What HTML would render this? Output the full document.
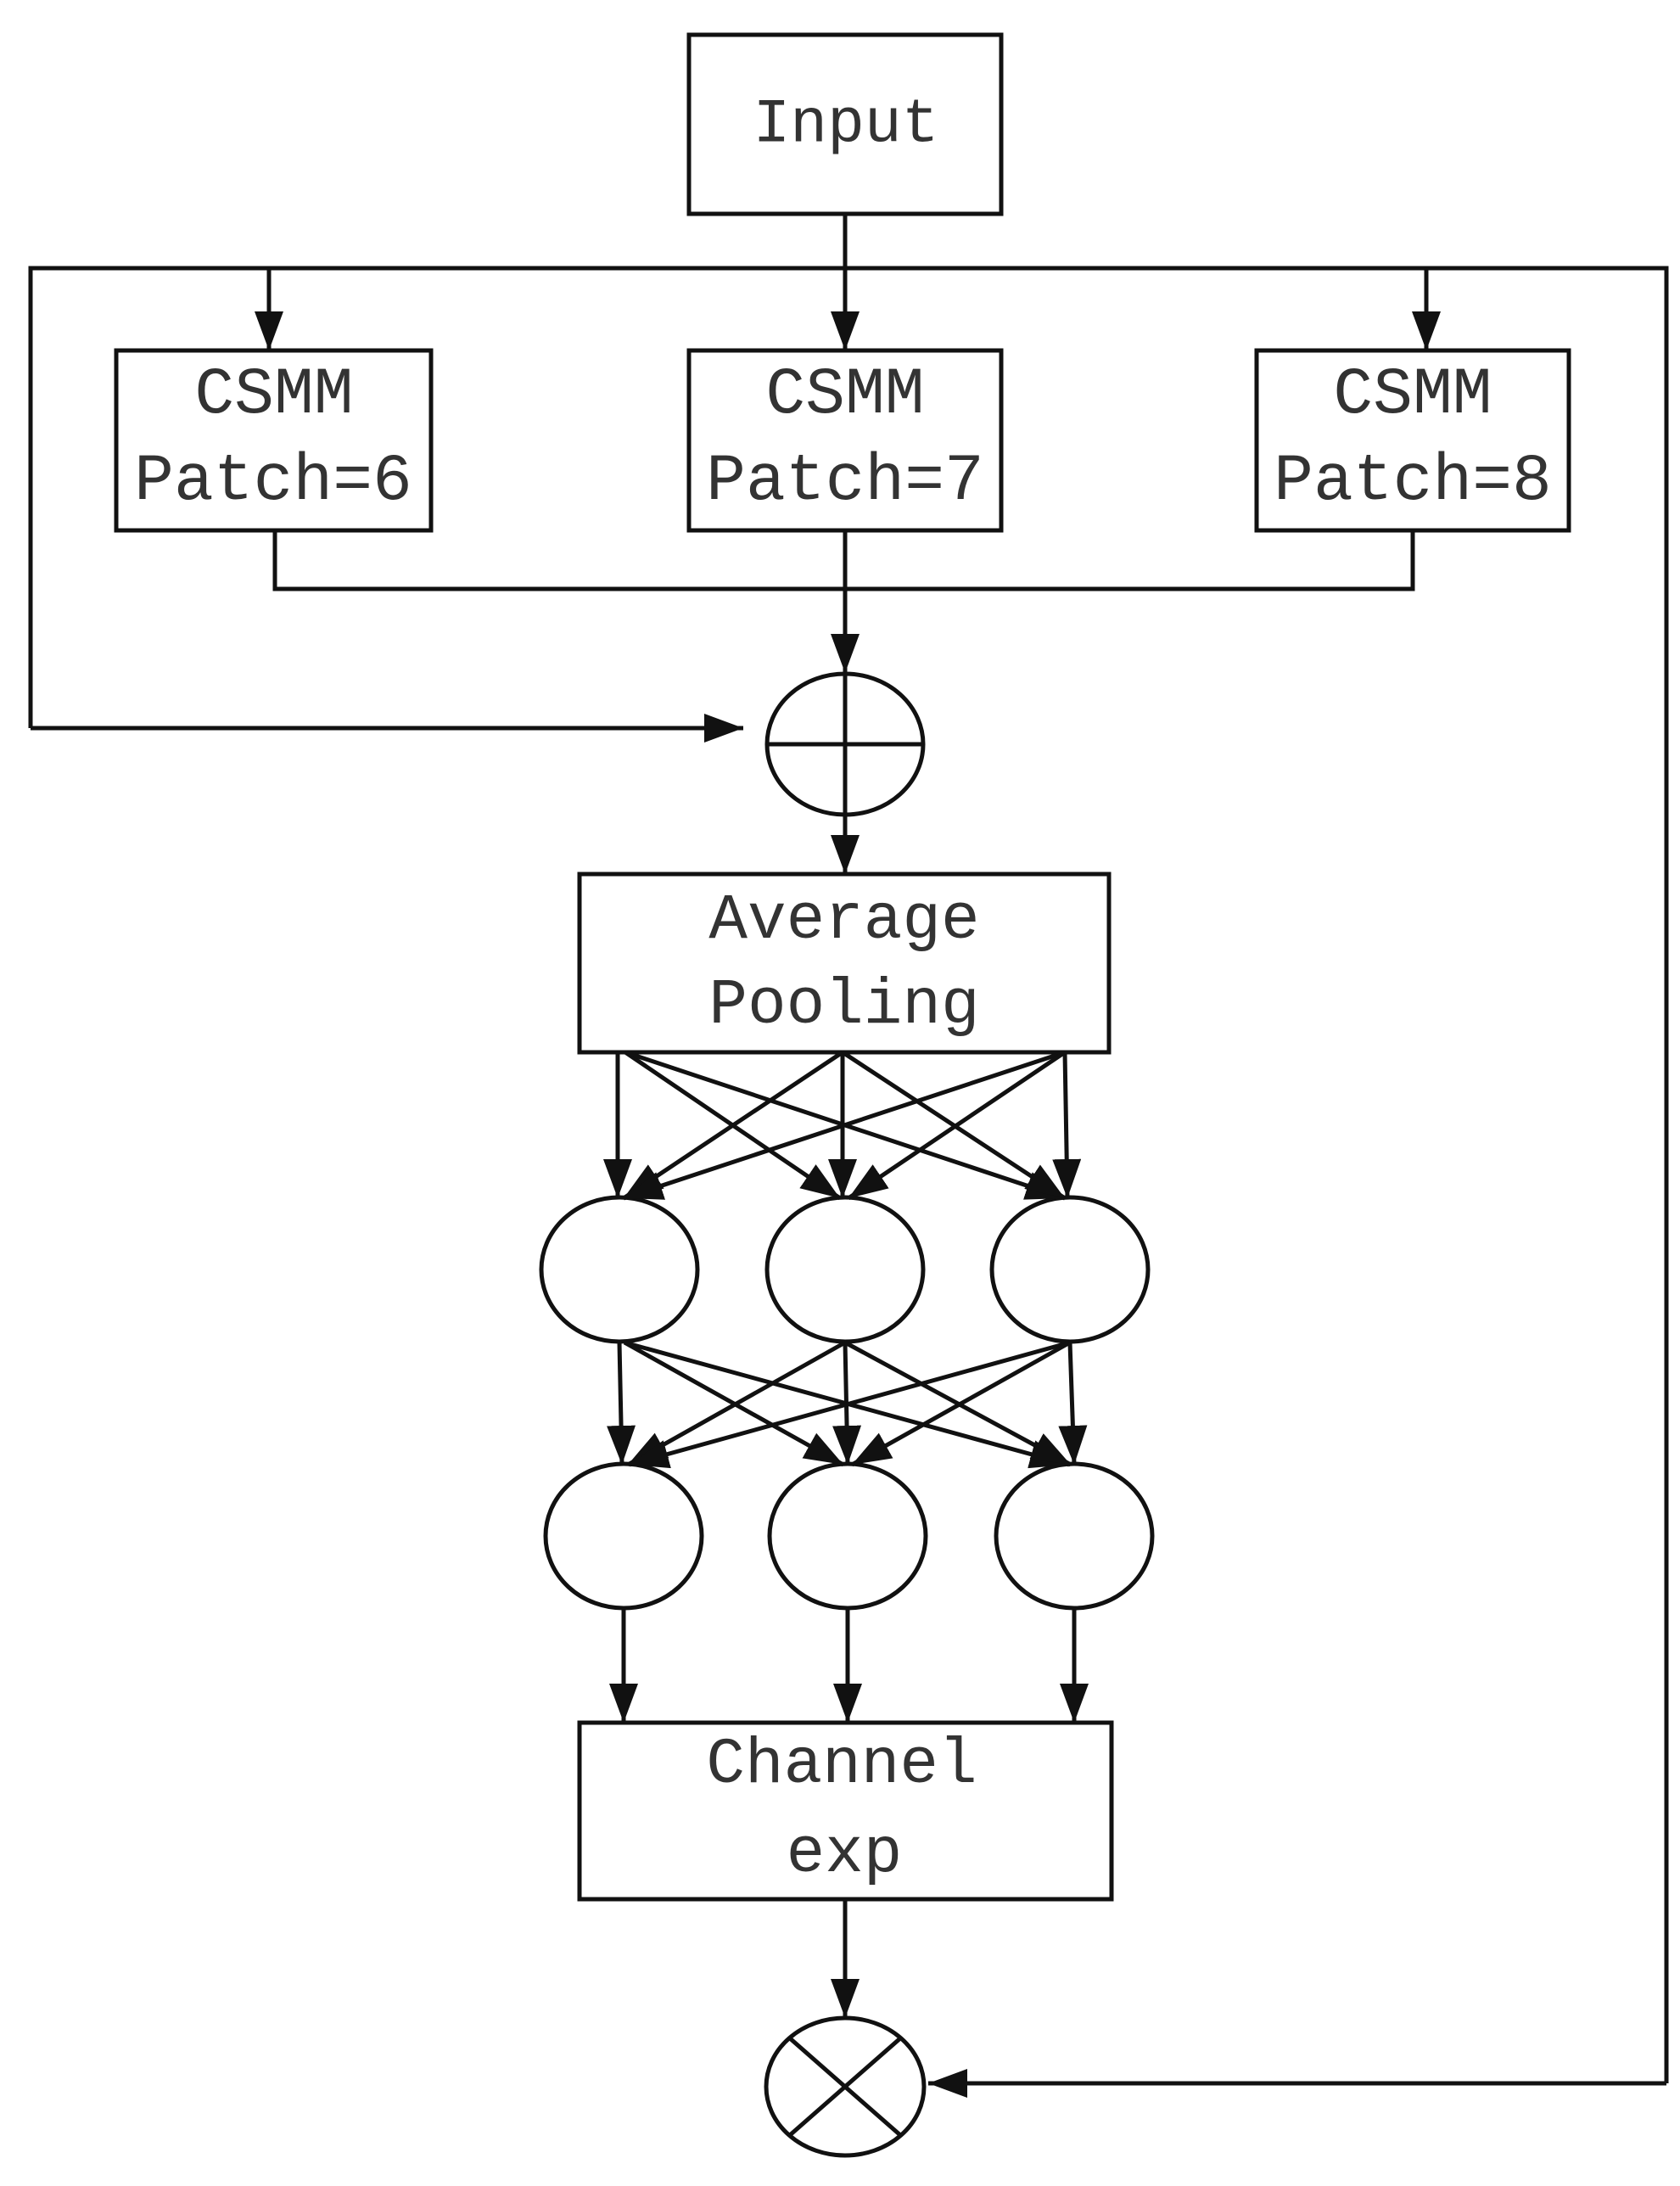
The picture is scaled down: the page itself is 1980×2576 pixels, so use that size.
<!DOCTYPE html>
<html><head><meta charset="utf-8"><style>
html,body{margin:0;padding:0;background:#fff;}
svg{display:block;}
text{font-family:"Liberation Mono",monospace;fill:#333;text-anchor:middle;dominant-baseline:central;}
</style></head><body>
<svg width="1980" height="2576" viewBox="0 0 1980 2576" xmlns="http://www.w3.org/2000/svg">
<defs>
<marker id="a" viewBox="0 0 10 10" preserveAspectRatio="none" markerWidth="46" markerHeight="34" refX="10" refY="5" orient="auto" markerUnits="userSpaceOnUse">
<path d="M0,0 L10,5 L0,10 z" fill="#111"/>
</marker>
</defs>
<g fill="none" stroke="#111" stroke-width="5">
<rect x="812" y="41" width="368" height="211"/>
<rect x="137" y="413" width="371" height="212"/>
<rect x="812" y="413" width="368" height="212"/>
<rect x="1481" y="413" width="368" height="212"/>
<rect x="683" y="1030" width="624" height="210"/>
<rect x="683" y="2030" width="627" height="208"/>
<polyline points="36,858 36,316 1964,316 1964,2455"/>
<line x1="996" y1="252" x2="996" y2="316"/>
<polyline points="324,625 324,694 1665,694 1665,625"/>
<line x1="996" y1="625" x2="996" y2="960"/>
<ellipse cx="996" cy="877" rx="92" ry="83"/>
<line x1="904" y1="877" x2="1088" y2="877"/>
<ellipse cx="730" cy="1496" rx="92" ry="85"/>
<ellipse cx="996" cy="1496" rx="92" ry="85"/>
<ellipse cx="1261" cy="1496" rx="92" ry="85"/>
<ellipse cx="735" cy="1810" rx="92" ry="85"/>
<ellipse cx="999" cy="1810" rx="92" ry="85"/>
<ellipse cx="1266" cy="1810" rx="92" ry="85"/>
<ellipse cx="996" cy="2459" rx="93" ry="81"/>
<line x1="931" y1="2402" x2="1061" y2="2516"/>
<line x1="1061" y1="2402" x2="931" y2="2516"/>
</g>
<g stroke="#111" stroke-width="5" fill="none">
<line x1="317" y1="316" x2="317" y2="413" marker-end="url(#a)"/>
<line x1="996" y1="316" x2="996" y2="413" marker-end="url(#a)"/>
<line x1="1681" y1="316" x2="1681" y2="413" marker-end="url(#a)"/>
<line x1="996" y1="694" x2="996" y2="793" marker-end="url(#a)"/>
<line x1="36" y1="858" x2="876" y2="858" marker-end="url(#a)"/>
<line x1="996" y1="960" x2="996" y2="1030" marker-end="url(#a)"/>
<line x1="1964" y1="2455" x2="1094" y2="2455" marker-end="url(#a)"/>
<line x1="996" y1="2238" x2="996" y2="2378" marker-end="url(#a)"/>
<line x1="735" y1="1895" x2="735" y2="2030" marker-end="url(#a)"/>
<line x1="999" y1="1895" x2="999" y2="2030" marker-end="url(#a)"/>
<line x1="1266" y1="1895" x2="1266" y2="2030" marker-end="url(#a)"/>

<line x1="728" y1="1240" x2="728" y2="1412" marker-end="url(#a)"/>
<line x1="737" y1="1240" x2="990" y2="1412" marker-end="url(#a)"/>
<line x1="737" y1="1240" x2="1255" y2="1412" marker-end="url(#a)"/>
<line x1="993" y1="1240" x2="735" y2="1412" marker-end="url(#a)"/>
<line x1="993" y1="1240" x2="993" y2="1412" marker-end="url(#a)"/>
<line x1="993" y1="1240" x2="1255" y2="1412" marker-end="url(#a)"/>
<line x1="1255" y1="1240" x2="735" y2="1412" marker-end="url(#a)"/>
<line x1="1255" y1="1240" x2="1000" y2="1412" marker-end="url(#a)"/>
<line x1="1255" y1="1240" x2="1258" y2="1412" marker-end="url(#a)"/>

<line x1="730" y1="1582" x2="733" y2="1726" marker-end="url(#a)"/>
<line x1="736" y1="1582" x2="994" y2="1726" marker-end="url(#a)"/>
<line x1="736" y1="1582" x2="1260" y2="1726" marker-end="url(#a)"/>
<line x1="996" y1="1582" x2="740" y2="1726" marker-end="url(#a)"/>
<line x1="996" y1="1582" x2="999" y2="1726" marker-end="url(#a)"/>
<line x1="996" y1="1582" x2="1262" y2="1726" marker-end="url(#a)"/>
<line x1="1261" y1="1582" x2="742" y2="1726" marker-end="url(#a)"/>
<line x1="1261" y1="1582" x2="1004" y2="1726" marker-end="url(#a)"/>
<line x1="1261" y1="1582" x2="1266" y2="1726" marker-end="url(#a)"/>
</g>
<text x="997" y="147" font-size="73">Input</text>
<text x="323" y="466" font-size="78">CSMM</text>
<text x="322" y="568" font-size="78">Patch=6</text>
<text x="996" y="466" font-size="78">CSMM</text>
<text x="996" y="568" font-size="78">Patch=7</text>
<text x="1665" y="466" font-size="78">CSMM</text>
<text x="1665" y="568" font-size="78">Patch=8</text>
<text x="995" y="1085" font-size="76">Average</text>
<text x="995" y="1185" font-size="76">Pooling</text>
<text x="992" y="2080" font-size="76">Channel</text>
<text x="995" y="2185" font-size="76">exp</text>
</svg>
</body></html>
